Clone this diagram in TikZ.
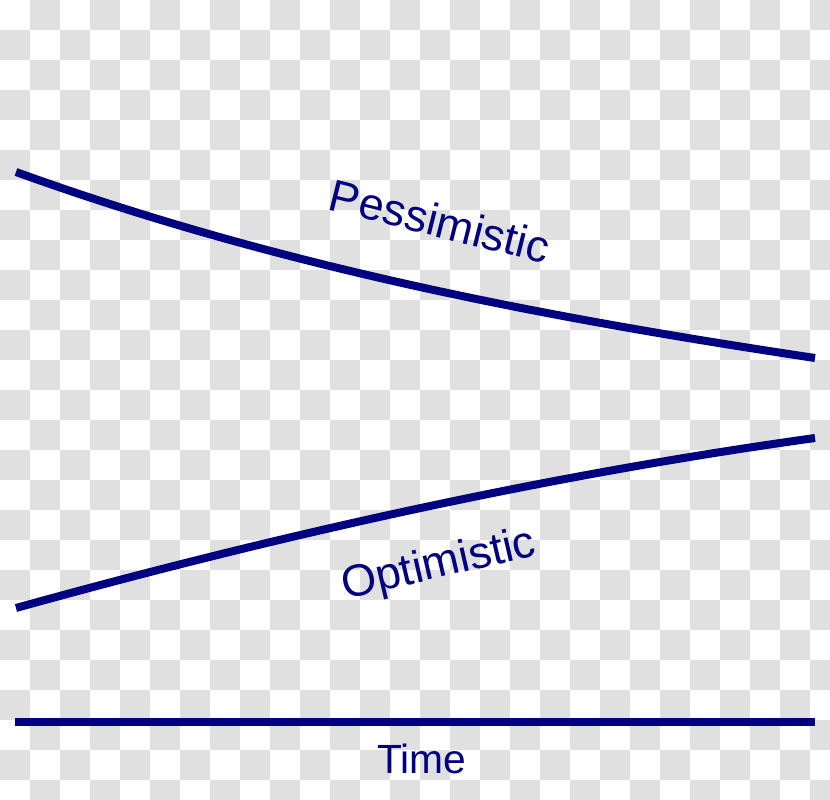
\documentclass[tikz,border=0pt]{standalone}
\usepackage{fontspec}
\setmainfont{Liberation Sans}
\definecolor{navy}{RGB}{0,0,128}
\definecolor{checker}{RGB}{224,224,224}

\begin{document}
\begin{tikzpicture}[x=0.01cm, y=-0.01cm,
    curve/.style = {draw=navy, line width=0.08cm},
    label/.style = {text=navy, font=\fontsize{12.8pt}{14pt}\selectfont, inner sep=0pt}]
            % Fond
            \useasboundingbox (0,0) rectangle (830,800);
            \fill[white] (0,0) rectangle (830,800);
            \begin{scope}
                \clip (0,0) rectangle (830,800);
                \foreach \j in {0,...,26}
                    \foreach \i in {0,...,27} {
                        \pgfmathtruncatemacro\parity{mod(\i+\j,2)}
                        \ifnum\parity=1
                            \fill[checker] (30*\i,30*\j) rectangle ++(30,30);
                        \fi
                    }
            \end{scope}

            % Points
            \coordinate (p0) at (16,172);
            \coordinate (p1) at (815,358);
            \coordinate (o0) at (16,608);
            \coordinate (o1) at (815,438);
            \coordinate (t0) at (15,722);
            \coordinate (t1) at (815,722);

            % Courbes
            \draw[curve] (p0) .. controls (282,268) and (549,318) .. (p1);
            \draw[curve] (o0) .. controls (282,534) and (549,475) .. (o1);
            \draw[curve] (t0) -- (t1);

            % Textes
            \node[label, rotate=-14] (pess) at (440,221) {Pessimistic};
            \node[label, rotate=13]  (opt)  at (439,566) {Optimistic};
            \node[label, font=\fontsize{11.6pt}{13pt}\selectfont] (time) at (422,759) {Time};
        \end{tikzpicture}
\end{document}
